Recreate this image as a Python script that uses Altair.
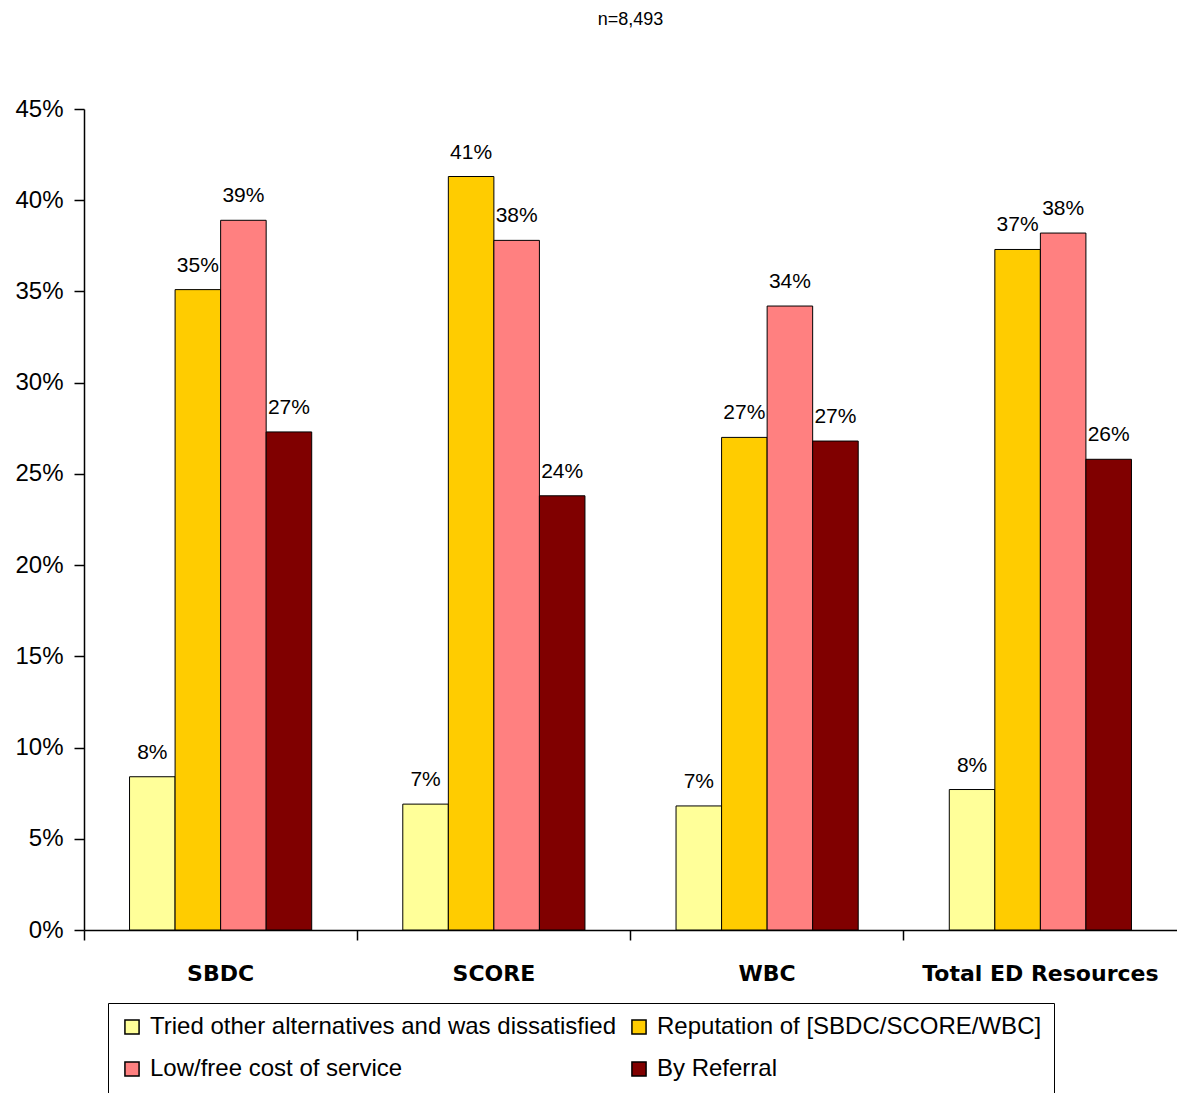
import altair as alt
import pandas as pd

categories = ["SBDC", "SCORE", "WBC", "Total ED Resources"]
series = [
    "Tried other alternatives and was dissatisfied",
    "Reputation of [SBDC/SCORE/WBC]",
    "Low/free cost of service",
    "By Referral",
]
colors = ["#FFFF99", "#FFCC00", "#FF8080", "#800000"]
values = {
    "Tried other alternatives and was dissatisfied": [8.4, 6.9, 6.8, 7.7],
    "Reputation of [SBDC/SCORE/WBC]": [35.1, 41.3, 27.0, 37.3],
    "Low/free cost of service": [38.9, 37.8, 34.2, 38.2],
    "By Referral": [27.3, 23.8, 26.8, 25.8],
}

rows = []
for s in series:
    for c, v in zip(categories, values[s]):
        rows.append({"cat": c, "series": s, "value": v / 100.0})
df = pd.DataFrame(rows)

FONT = "Liberation Sans"

x = alt.X(
    "cat:N",
    sort=categories,
    scale=alt.Scale(paddingInner=0, paddingOuter=0),
    axis=alt.Axis(
        title=None,
        labelAngle=0,
        labelFont="DejaVu Sans",
        labelFontWeight="bold",
        labelFontSize=22,
        labelColor="#000000",
        labelPadding=23,
        labelLimit=500,
        bandPosition=0,
        ticks=True,
        tickSize=10,
        tickColor="#000000",
        domainColor="#000000",
        domainWidth=1.5,
        tickWidth=1.5,
        grid=False,
    ),
)
xoff = alt.XOffset(
    "series:N",
    sort=series,
    scale=alt.Scale(domain=series, paddingInner=0, paddingOuter=1),
)
y = alt.Y(
    "value:Q",
    scale=alt.Scale(domain=[0, 0.45], nice=False),
    axis=alt.Axis(
        title=None,
        values=[0, 0.05, 0.1, 0.15, 0.2, 0.25, 0.3, 0.35, 0.4, 0.45],
        format=".0%",
        labelFont=FONT,
        labelFontSize=24,
        labelColor="#000000",
        labelPadding=11,
        tickSize=10,
        tickColor="#000000",
        tickWidth=1.5,
        domainColor="#000000",
        domainWidth=1.5,
        grid=False,
    ),
)
color = alt.Color(
    "series:N",
    sort=series,
    scale=alt.Scale(domain=series, range=colors),
    legend=alt.Legend(
        title=None,
        orient="none",
        legendX=24,
        legendY=894,
        columns=2,
        direction="horizontal",
        symbolType="square",
        symbolSize=200,
        symbolStrokeColor="#000000",
        symbolStrokeWidth=1.5,
        labelFont=FONT,
        labelFontSize=24,
        labelColor="#000000",
        labelLimit=800,
        labelOffset=6,
        columnPadding=10,
        rowPadding=18,
        strokeColor="#000000",
        padding=12,
    ),
)

bars = alt.Chart(df).mark_bar(stroke="#000000", strokeWidth=1).encode(
    x=x, xOffset=xoff, y=y, color=color
)
labels = alt.Chart(df).mark_text(
    baseline="bottom", dy=-14, font=FONT, fontSize=21, color="#000000"
).encode(
    x=alt.X("cat:N", sort=categories),
    xOffset=alt.XOffset("series:N", sort=series),
    y=alt.Y("value:Q"),
    text=alt.Text("value:Q", format=".0%"),
)

chart = (
    alt.layer(bars, labels)
    .properties(
        width=1093,
        height=821,
        background="white",
        title=alt.TitleParams(
            "n=8,493", font=FONT, fontSize=18, fontWeight="normal",
            color="#000000", offset=68, anchor="middle",
        ),
        autosize=alt.AutoSizeParams(type="none"),
        padding={"left": 84, "top": 109, "right": 0, "bottom": 163},
    )
    .configure_axis(grid=False)
    .configure_view(strokeWidth=0)
)

chart.save("out.html", embed_options={"renderer": "svg", "actions": False})
